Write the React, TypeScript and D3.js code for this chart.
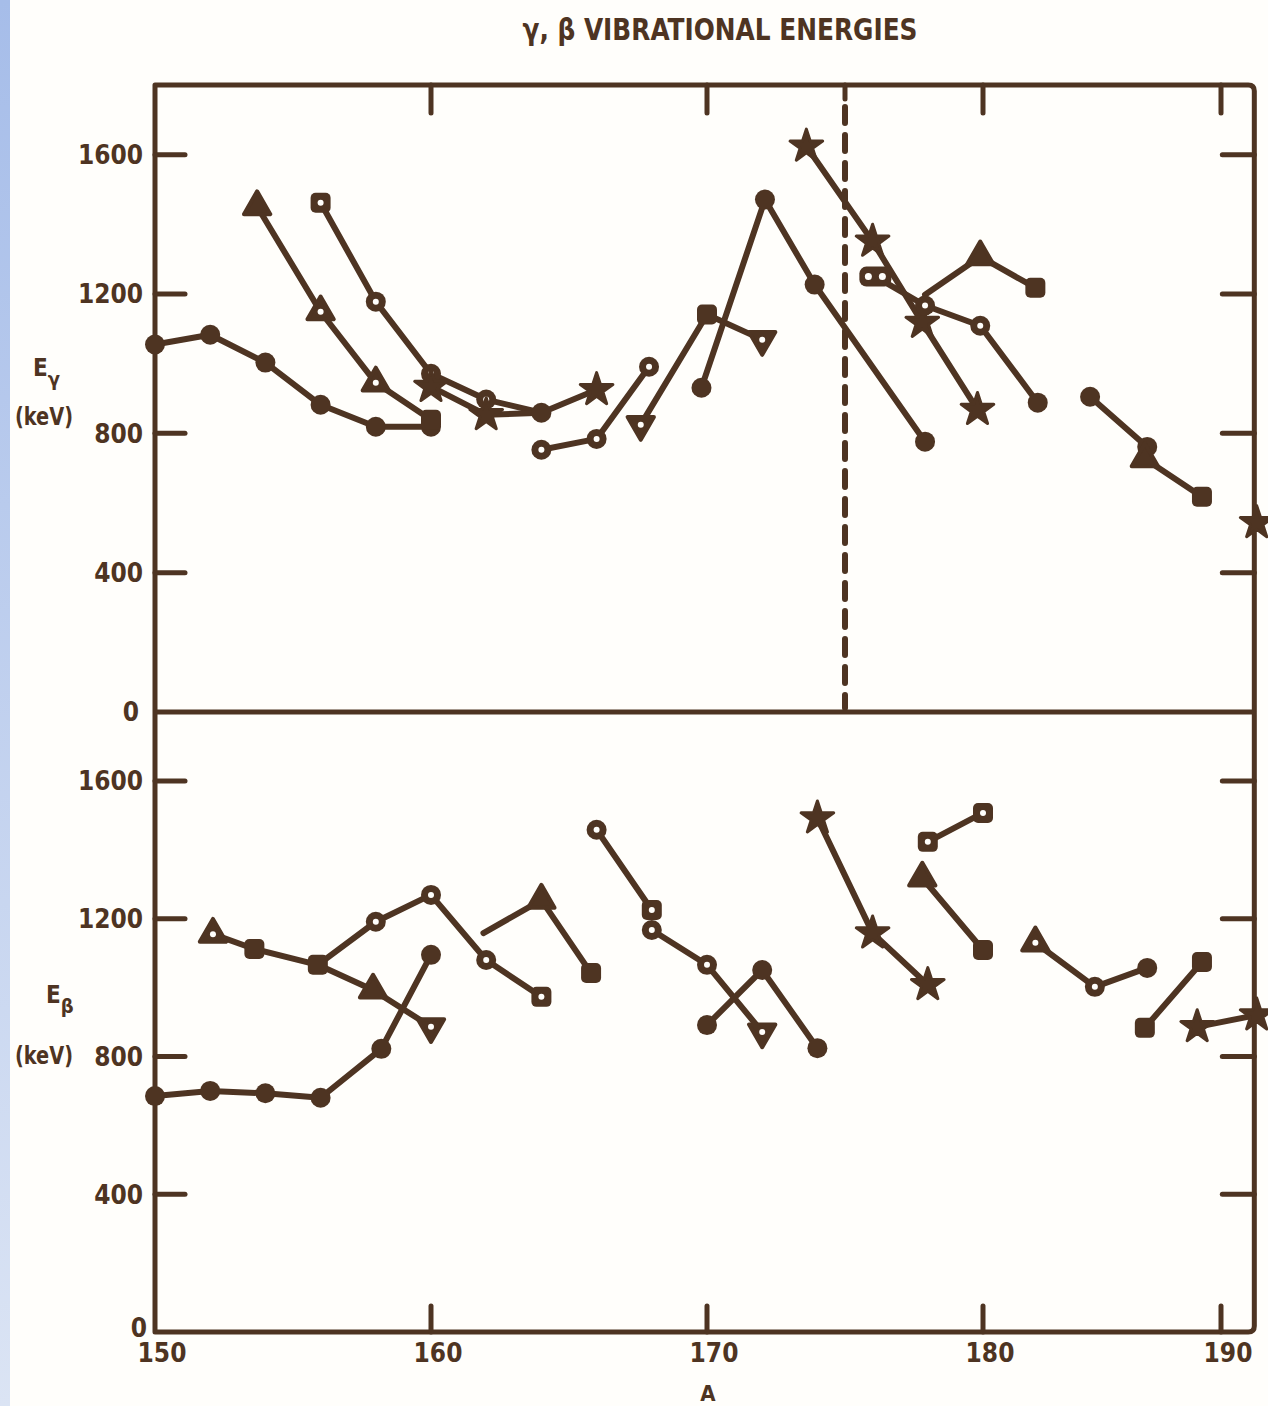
import React, { useEffect, useRef } from 'react';
import * as d3 from 'd3';

const INK = '#4e3422';
const PAPER = '#fffefb';
const FONT = "'DejaVu Sans Condensed','DejaVu Sans',sans-serif";

// axes
const xTicks = [150, 160, 170, 180, 190];
const yTicks = [400, 800, 1200, 1600];
const dashedAt = 175;

// E_gamma (keV) vs mass number A
const gRot = [[150, 1055], [152, 1083], [154, 1003], [156, 882], [158, 819], [160, 819]];
const gTri = [[153.7, 1451], [156, 1149], [158, 945], [160, 839]];
const gSq = [[156, 1462], [158, 1178], [160, 971], [162, 897], [164, 859], [166, 925]];
const gStar1 = [[160, 934], [162, 853], [164, 859]];
const gOpen = [[164, 753], [166, 784], [167.9, 991]];
const gDown = [[167.6, 825], [170, 1141], [172, 1069]];
const gPeak = [[169.8, 931], [172.1, 1471], [173.9, 1227], [177.9, 776]];
const gStar2 = [[173.6, 1624], [176, 1351], [177.8, 1118], [179.8, 868]];
const gPair = [[176.1, 1250], [177.9, 1167], [179.9, 1109], [182.3, 888]];
const gTri2 = [[177.9, 1198], [179.9, 1307], [182.2, 1218]];
const gTail = [[184.5, 905], [186.9, 761], [186.8, 727], [189.2, 618]];
const gEdge = [[191.5, 543]];

// E_beta (keV) vs A
const bRot = [[150, 685], [152, 700], [154, 693], [156, 680], [158.2, 822], [160, 1095]];
const bTri = [[152.1, 1155], [153.6, 1112], [155.9, 1066], [157.9, 993], [160, 886]];
const bOpen = [[155.9, 1066], [158, 1191], [160, 1269], [162, 1080], [164, 973]];
const bZig = [[161.9, 1158], [164, 1254], [165.8, 1042]];
const bHigh = [[166, 1458], [168, 1225]];
const bDown = [[168, 1167], [170, 1066], [172, 871]];
const bCross = [[170, 891], [172, 1051], [174, 824]];
const bStar = [[174, 1492], [176, 1158], [178, 1008]];
const bPair = [[178, 1423], [180, 1507]];
const bTri2 = [[177.8, 1318], [180, 1109]];
const bRun = [[182.2, 1130], [184.7, 1002], [186.9, 1057]];
const bBar = [[186.8, 883], [189.2, 1074]];
const bEdge = [[189, 886], [191.5, 920]];

const gammaSeries = [
  { pts: gRot, marks: ['fc', 'fc', 'fc', 'fc', 'fc', 'fc'] },
  { pts: gTri, marks: ['tri', 'otri', 'otri', 'fsq'] },
  { pts: gSq, marks: ['osq', 'oc', 'oc', 'oc', 'fc', 'star'] },
  { pts: gStar1, marks: ['star', 'star', 'none'] },
  { pts: gOpen, marks: ['oc', 'oc', 'oc'] },
  { pts: gDown, marks: ['otriD', 'fsq', 'otriD'] },
  { pts: gPeak, marks: ['fc', 'fc', 'fc', 'fc'] },
  { pts: gStar2, marks: ['star', 'star', 'star', 'star'] },
  { pts: gPair, marks: ['dsq', 'oc', 'oc', 'fc'] },
  { pts: gTri2, marks: ['none', 'tri', 'fsq'] },
  { pts: gTail, marks: ['fc', 'fc', 'tri', 'fsq'] },
  { pts: gEdge, marks: ['star'] },
];

const betaSeries = [
  { pts: bRot, marks: ['fc', 'fc', 'fc', 'fc', 'fc', 'fc'] },
  { pts: bTri, marks: ['otri', 'fsq', 'fsq', 'tri', 'otriD'] },
  { pts: bOpen, marks: ['none', 'oc', 'oc', 'oc', 'osq'] },
  { pts: bZig, marks: ['none', 'tri', 'fsq'] },
  { pts: bHigh, marks: ['oc', 'osq'] },
  { pts: bDown, marks: ['oc', 'oc', 'otriD'] },
  { pts: bCross, marks: ['fc', 'fc', 'fc'] },
  { pts: bStar, marks: ['star', 'star', 'star'] },
  { pts: bPair, marks: ['osq', 'osq'] },
  { pts: bTri2, marks: ['tri', 'fsq'] },
  { pts: bRun, marks: ['otri', 'oc', 'fc'] },
  { pts: bBar, marks: ['fsq', 'fsq'] },
  { pts: bEdge, marks: ['star', 'star'] },
];

function drawMark(g, kind, cx, cy) {
  if (kind === 'none') return;
  const m = g.append('g').attr('transform', `translate(${cx},${cy})`);
  const dot = () => m.append('circle').attr('r', 3).attr('fill', PAPER);
  if (kind === 'fc' || kind === 'oc') {
    m.append('circle').attr('r', 10).attr('fill', INK);
    if (kind === 'oc') dot();
  } else if (kind === 'tri' || kind === 'otri' || kind === 'otriD') {
    m.append('path')
      .attr('d', d3.symbol(d3.symbolTriangle, 300)())
      .attr('transform', kind === 'otriD' ? 'rotate(180)' : null)
      .attr('fill', INK)
      .attr('stroke', INK)
      .attr('stroke-width', 4)
      .attr('stroke-linejoin', 'round');
    if (kind !== 'tri') dot();
  } else if (kind === 'fsq' || kind === 'osq') {
    m.append('rect').attr('x', -10).attr('y', -10).attr('width', 20).attr('height', 20)
      .attr('rx', 5).attr('fill', INK);
    if (kind === 'osq') dot();
  } else if (kind === 'dsq') {
    m.append('rect').attr('x', -16).attr('y', -10).attr('width', 32).attr('height', 20)
      .attr('rx', 7).attr('fill', INK);
    m.append('circle').attr('cx', -7).attr('r', 3.5).attr('fill', PAPER);
    m.append('circle').attr('cx', 7).attr('r', 3.5).attr('fill', PAPER);
  } else if (kind === 'star') {
    m.append('path')
      .attr('d', d3.symbol(d3.symbolStar, 330)())
      .attr('fill', INK)
      .attr('stroke', INK)
      .attr('stroke-width', 3)
      .attr('stroke-linejoin', 'round');
  }
}

export default function App() {
  const svgRef = useRef(null);

  useEffect(() => {
    const svg = d3.select(svgRef.current);
    svg.selectAll('*').remove();

    const x = d3.scaleLinear().domain([150, 180, 190]).range([155, 983, 1221]);
    const yTop = d3.scaleLinear().domain([0, 1800]).range([712, 85]);
    const yBot = d3.scaleLinear().domain([0, 1800]).range([1332, 712]);
    const left = x(150);
    const right = x(191.4);

    // scan edge strip
    const grad = svg.append('defs').append('linearGradient')
      .attr('id', 'edge').attr('x1', 0).attr('y1', 0).attr('x2', 0).attr('y2', 1);
    grad.append('stop').attr('offset', '0%').attr('stop-color', '#a6bde9');
    grad.append('stop').attr('offset', '100%').attr('stop-color', '#dbe4f4');
    svg.append('rect').attr('width', 1268).attr('height', 1406).attr('fill', PAPER);
    svg.append('rect').attr('width', 10).attr('height', 1406).attr('fill', 'url(#edge)');

    const ink = svg.append('g')
      .attr('fill', 'none').attr('stroke', INK)
      .attr('stroke-linecap', 'round').attr('stroke-linejoin', 'round');

    // frame + middle divider
    ink.append('path')
      .attr('stroke-width', 5)
      .attr('d', `M${left},${yBot(0)} V${yTop(1800)} H${right - 6} Q${right},${yTop(1800)} ${right},${yTop(1800) + 6} V${yBot(0) - 6} Q${right},${yBot(0)} ${right - 6},${yBot(0)} H${left} M${left},${yTop(0)} H${right}`);

    // x ticks, top and bottom
    xTicks.slice(1).forEach(t => {
      ink.append('line').attr('stroke-width', 5)
        .attr('x1', x(t)).attr('x2', x(t)).attr('y1', yTop(1800)).attr('y2', yTop(1800) + 28);
      ink.append('line').attr('stroke-width', 5)
        .attr('x1', x(t)).attr('x2', x(t)).attr('y1', yBot(0)).attr('y2', yBot(0) - 26);
    });
    ink.append('line').attr('stroke-width', 5)
      .attr('x1', x(dashedAt)).attr('x2', x(dashedAt)).attr('y1', yTop(1800)).attr('y2', yTop(1800) + 14);

    // y ticks on both sides of both panels
    [yTop, yBot].forEach(y => {
      yTicks.forEach(t => {
        ink.append('line').attr('stroke-width', 5)
          .attr('x1', left).attr('x2', left + 30).attr('y1', y(t)).attr('y2', y(t));
        ink.append('line').attr('stroke-width', 5)
          .attr('x1', right).attr('x2', right - 32).attr('y1', y(t)).attr('y2', y(t));
      });
    });

    // dashed divider at A = 175
    ink.append('line')
      .attr('stroke-width', 6)
      .attr('stroke-dasharray', '16 12')
      .attr('x1', x(dashedAt)).attr('x2', x(dashedAt))
      .attr('y1', yTop(1800) + 22).attr('y2', yTop(0) - 4);

    // series
    const panels = [
      { y: yTop, series: gammaSeries },
      { y: yBot, series: betaSeries },
    ];
    panels.forEach(({ y, series }) => {
      const line = d3.line().x(d => x(d[0])).y(d => y(d[1]));
      series.forEach(s => {
        if (s.pts.length > 1) {
          ink.append('path').attr('stroke-width', 6).attr('d', line(s.pts));
        }
      });
      const mg = svg.append('g');
      series.forEach(s => {
        s.pts.forEach((p, i) => drawMark(mg, s.marks[i], x(p[0]), y(p[1])));
      });
    });

    // text
    const txt = svg.append('g')
      .attr('fill', INK).attr('font-family', FONT).attr('font-weight', 'bold');

    txt.append('text')
      .attr('x', 720).attr('y', 40)
      .attr('text-anchor', 'middle')
      .attr('font-size', 30)
      .attr('textLength', 395).attr('lengthAdjust', 'spacingAndGlyphs')
      .text('γ, β VIBRATIONAL ENERGIES');

    [yTop, yBot].forEach(y => {
      yTicks.forEach(t => {
        txt.append('text')
          .attr('x', 143).attr('y', y(t))
          .attr('dy', '0.36em')
          .attr('text-anchor', 'end')
          .attr('font-size', 26)
          .text(t);
      });
    });
    txt.append('text').attr('x', 139).attr('y', yTop(0)).attr('dy', '0.36em')
      .attr('text-anchor', 'end').attr('font-size', 26).text('0');
    txt.append('text').attr('x', 147).attr('y', yBot(0) - 4).attr('dy', '0.36em')
      .attr('text-anchor', 'end').attr('font-size', 26).text('0');

    xTicks.forEach(t => {
      txt.append('text')
        .attr('x', x(t) + 7).attr('y', yBot(0) + 21)
        .attr('dy', '0.36em')
        .attr('text-anchor', 'middle')
        .attr('font-size', 26)
        .text(t);
    });
    txt.append('text').attr('x', 708).attr('y', 1401)
      .attr('text-anchor', 'middle').attr('font-size', 22).text('A');

    // y titles
    const yTitle = (ex, ey, sub, ky) => {
      const t = txt.append('text').attr('x', ex).attr('y', ey).attr('font-size', 24);
      t.append('tspan').text('E');
      t.append('tspan').attr('dy', 10).attr('font-size', 20).text(sub);
      txt.append('text').attr('x', 15).attr('y', ky).attr('dy', '0.36em')
        .attr('font-size', 24).attr('textLength', 58).attr('lengthAdjust', 'spacingAndGlyphs')
        .text('(keV)');
    };
    yTitle(33, 376, 'γ', 416);
    yTitle(46, 1003, 'β', 1055);
  }, []);

  return (
    <>
      <style>{'body{margin:0}'}</style>
      <svg ref={svgRef} width={1268} height={1406} style={{ display: 'block' }} />
    </>
  );
}
